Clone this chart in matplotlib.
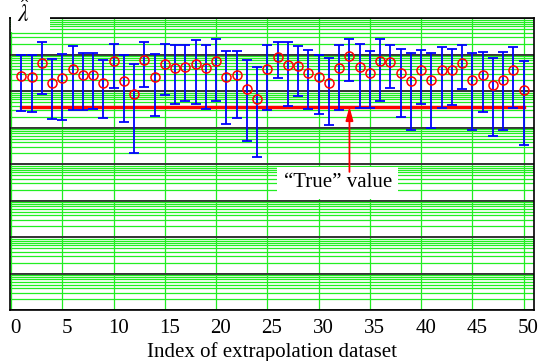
import numpy as np
import matplotlib
matplotlib.use("Agg")
from matplotlib import pyplot as plt
from matplotlib.ticker import LogLocator, NullFormatter, MultipleLocator
from matplotlib.patches import Rectangle
from matplotlib.transforms import ScaledTranslation

# estimates from the 50 extrapolation datasets
index = np.arange(1, 51)
lam_hat = [0.0262, 0.0242, 0.0608, 0.0169, 0.0227, 0.0401, 0.0280, 0.0280, 0.0169, 0.0664,
           0.0195, 0.00843, 0.0721, 0.0242, 0.0570, 0.0427, 0.0463, 0.0570, 0.0427, 0.0664,
           0.0242, 0.0280, 0.0118, 0.00604, 0.0401, 0.0887, 0.0535, 0.0503, 0.0323, 0.0242,
           0.0169, 0.0427, 0.0945, 0.0463, 0.0323, 0.0664, 0.0623, 0.0323, 0.0195, 0.0376,
           0.0208, 0.0376, 0.0376, 0.0608, 0.0208, 0.0280, 0.0146, 0.0208, 0.0376, 0.0109]
upper = [0.100, 0.100, 0.229, 0.0767, 0.103, 0.178, 0.112, 0.112, 0.0734, 0.194,
         0.0988, 0.0570, 0.229, 0.103, 0.194, 0.186, 0.186, 0.250, 0.186, 0.266,
         0.129, 0.129, 0.0734, 0.0472, 0.186, 0.229, 0.229, 0.174, 0.138, 0.100,
         0.0817, 0.186, 0.266, 0.194, 0.129, 0.266, 0.186, 0.144, 0.110, 0.138,
         0.110, 0.160, 0.144, 0.186, 0.110, 0.119, 0.0817, 0.119, 0.160, 0.0689]
lower = [0.00289, 0.00271, 0.00843, 0.00174, 0.00164, 0.00307, 0.00307, 0.00334, 0.00189, 0.0121,
         0.00144, 0.000208, 0.0131, 0.00210, 0.00777, 0.00440, 0.00553, 0.00440, 0.00334, 0.00553,
         0.00129, 0.00186, 0.000427, 0.000156, 0.00307, 0.0231, 0.00396, 0.00743, 0.00334, 0.00234,
         0.00122, 0.00307, 0.0188, 0.00356, 0.00356, 0.00553, 0.0123, 0.00201, 0.000855, 0.00449,
         0.000989, 0.00356, 0.00413, 0.0118, 0.000855, 0.00271, 0.000585, 0.000855, 0.00356, 0.000332]
true_value = 0.00379

plt.rcParams['font.family'] = ['Liberation Serif', 'DejaVu Serif']
plt.rcParams['mathtext.fontset'] = 'stix'
FS = 15

fig = plt.figure(figsize=(5.41, 3.61), dpi=100)
ax = fig.add_axes([10.3 / 541, 1 - 310.3 / 361, (534 - 10.3) / 541, (310.3 - 18.3) / 361])

lam = np.array(lam_hat)
yerr = [lam - np.array(lower), np.array(upper) - lam]

ax.set_yscale('log')
ax.set_ylim(1e-8, 1)
ax.set_xlim(-0.08, 51.0)

ax.axhline(true_value, xmin=(1 + 0.08) / 51.08, xmax=(50 + 0.08) / 51.08,
           color='red', lw=2.4, zorder=3)
ax.errorbar(index, lam, yerr=yerr, fmt='none', ecolor='blue', elinewidth=1.3,
            capsize=3.5, capthick=1.3, zorder=4)
ax.plot(index, lam, 'o', mfc='none', mec='red', ms=6.5, mew=1.1, zorder=5)

# grid: green minor, black decades
ax.yaxis.set_major_locator(LogLocator(base=10, numticks=20))
ax.yaxis.set_minor_locator(LogLocator(base=10, subs=np.arange(2, 10), numticks=20))
ax.yaxis.set_major_formatter(NullFormatter())
ax.yaxis.set_minor_formatter(NullFormatter())
ax.xaxis.set_major_locator(MultipleLocator(5))
ax.set_axisbelow(True)
ax.grid(True, which='minor', axis='y', color='#22ee22', lw=0.9)
ax.grid(True, which='major', axis='y', color='#333333', lw=1.4)
ax.grid(True, which='major', axis='x', color='#22ee22', lw=0.9)
ax.tick_params(axis='both', which='both', length=0, labelsize=FS)
ax.tick_params(axis='x', pad=6)
ax.tick_params(axis='y', left=False, labelleft=False)
for s in ax.spines.values():
    s.set_linewidth(1.2)

# tick labels sit slightly right of their grid lines
shift = ScaledTranslation(4.5 / 100, 0, fig.dpi_scale_trans)
for lab in ax.get_xticklabels():
    lab.set_transform(lab.get_transform() + shift)

ax.set_xlabel('Index of extrapolation dataset', fontsize=FS, labelpad=3)

# white patch behind the axis symbol
fig.patches.append(Rectangle((11 / 541, 1 - 31.5 / 361), 39 / 541, 20 / 361,
                             transform=fig.transFigure, facecolor='white',
                             edgecolor='none', zorder=3))
fig.text(23 / 541, 1 - 13 / 361, r'$\hat{\lambda}$', fontsize=17,
         ha='center', va='center', zorder=4)

ax.text(31.85, 3.1e-5, '\u201cTrue\u201d value', fontsize=FS, ha='center', va='center',
        zorder=6, bbox=dict(boxstyle='square,pad=0.3', fc='white', ec='none'))
ax.annotate('', xy=(33, true_value), xytext=(33, 6.2e-5), zorder=6,
            arrowprops=dict(arrowstyle='-|>,head_length=0.8,head_width=0.22',
                            color='red', lw=1.3, shrinkA=0, shrinkB=0))

fig.savefig('out.png', dpi=100)
